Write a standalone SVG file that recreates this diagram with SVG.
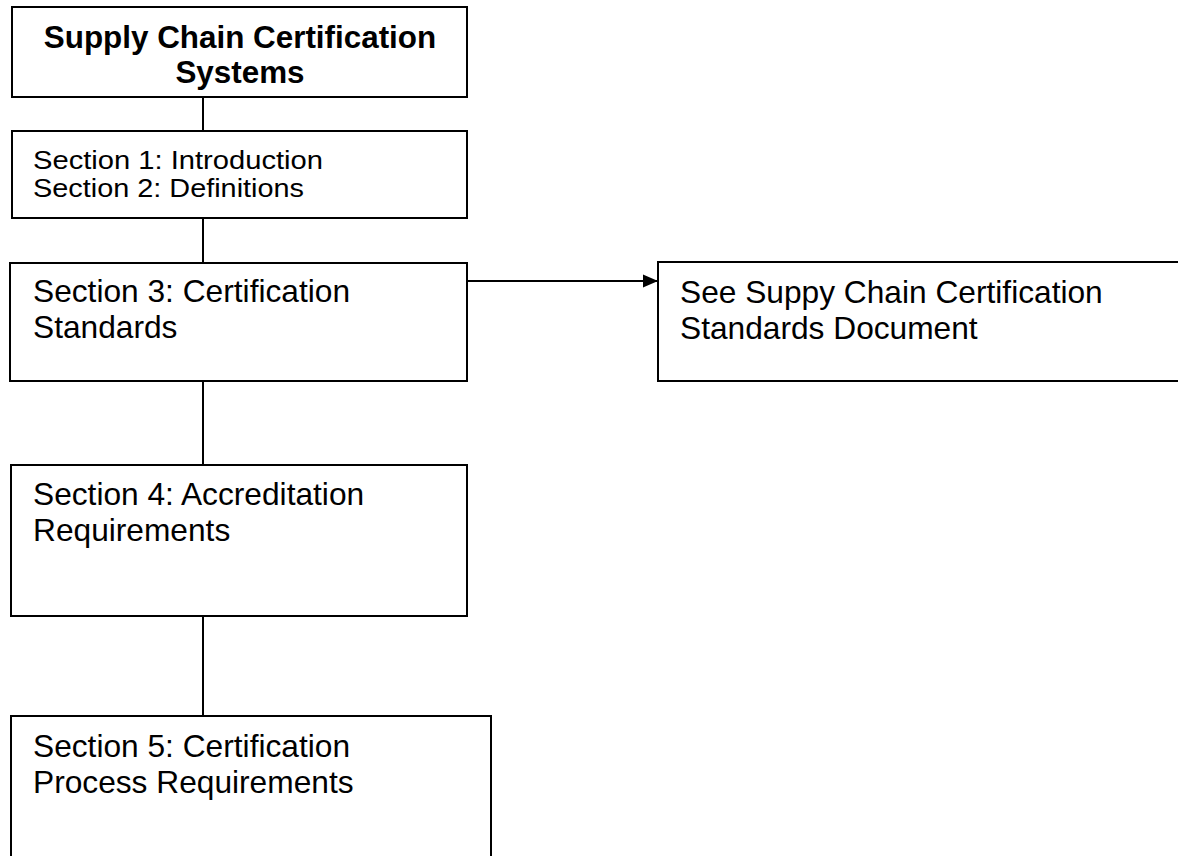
<svg xmlns="http://www.w3.org/2000/svg" width="1178" height="856" viewBox="0 0 1178 856">
<style>
.box{fill:#fff;stroke:#000;stroke-width:2}
.ln{fill:none;stroke:#000;stroke-width:2}
text{font-family:"Liberation Sans",Arial,sans-serif;fill:#000}
.big{font-size:31.7px}
.sm{font-size:26px}
.ttl{font-size:31.4px;font-weight:bold;text-anchor:middle}
</style>
<defs>
<marker id="ah" markerWidth="16" markerHeight="14" refX="15" refY="7" orient="auto" markerUnits="userSpaceOnUse">
<path d="M0,0.5 L15,7 L0,13.5 Z" fill="#000"/>
</marker>
</defs>
<rect width="1178" height="856" fill="#fff"/>
<g id="connectors">
<line class="ln" x1="203" y1="97" x2="203" y2="131"/>
<line class="ln" x1="203" y1="218" x2="203" y2="263"/>
<line class="ln" x1="203" y1="381" x2="203" y2="465"/>
<line class="ln" x1="203" y1="616" x2="203" y2="716"/>
<line class="ln" x1="467" y1="281" x2="658" y2="281" marker-end="url(#ah)"/>
</g>
<g id="title">
<rect class="box" x="12" y="7" width="455" height="90"/>
<text class="ttl" x="240" y="48">Supply Chain Certification</text>
<text class="ttl" x="240" y="83">Systems</text>
</g>
<g id="sec12">
<rect class="box" x="12" y="131" width="455" height="87"/>
<text class="sm" x="33" y="168.5" textLength="290" lengthAdjust="spacingAndGlyphs">Section 1: Introduction</text>
<text class="sm" x="33" y="196.5" textLength="271" lengthAdjust="spacingAndGlyphs">Section 2: Definitions</text>
</g>
<g id="sec3">
<rect class="box" x="10" y="263" width="457" height="118"/>
<text class="big" x="33" y="302">Section 3: Certification</text>
<text class="big" x="33" y="338">Standards</text>
</g>
<g id="standards">
<rect class="box" x="658" y="262" width="540" height="119"/>
<text class="big" x="680" y="303">See Suppy Chain Certification</text>
<text class="big" x="680" y="339">Standards Document</text>
</g>
<g id="sec4">
<rect class="box" x="11" y="465" width="456" height="151"/>
<text class="big" x="33" y="505">Section 4: Accreditation</text>
<text class="big" x="33" y="541">Requirements</text>
</g>
<g id="sec5">
<rect class="box" x="11" y="716" width="480" height="160"/>
<text class="big" x="33" y="757">Section 5: Certification</text>
<text class="big" x="33" y="793">Process Requirements</text>
</g>
</svg>
